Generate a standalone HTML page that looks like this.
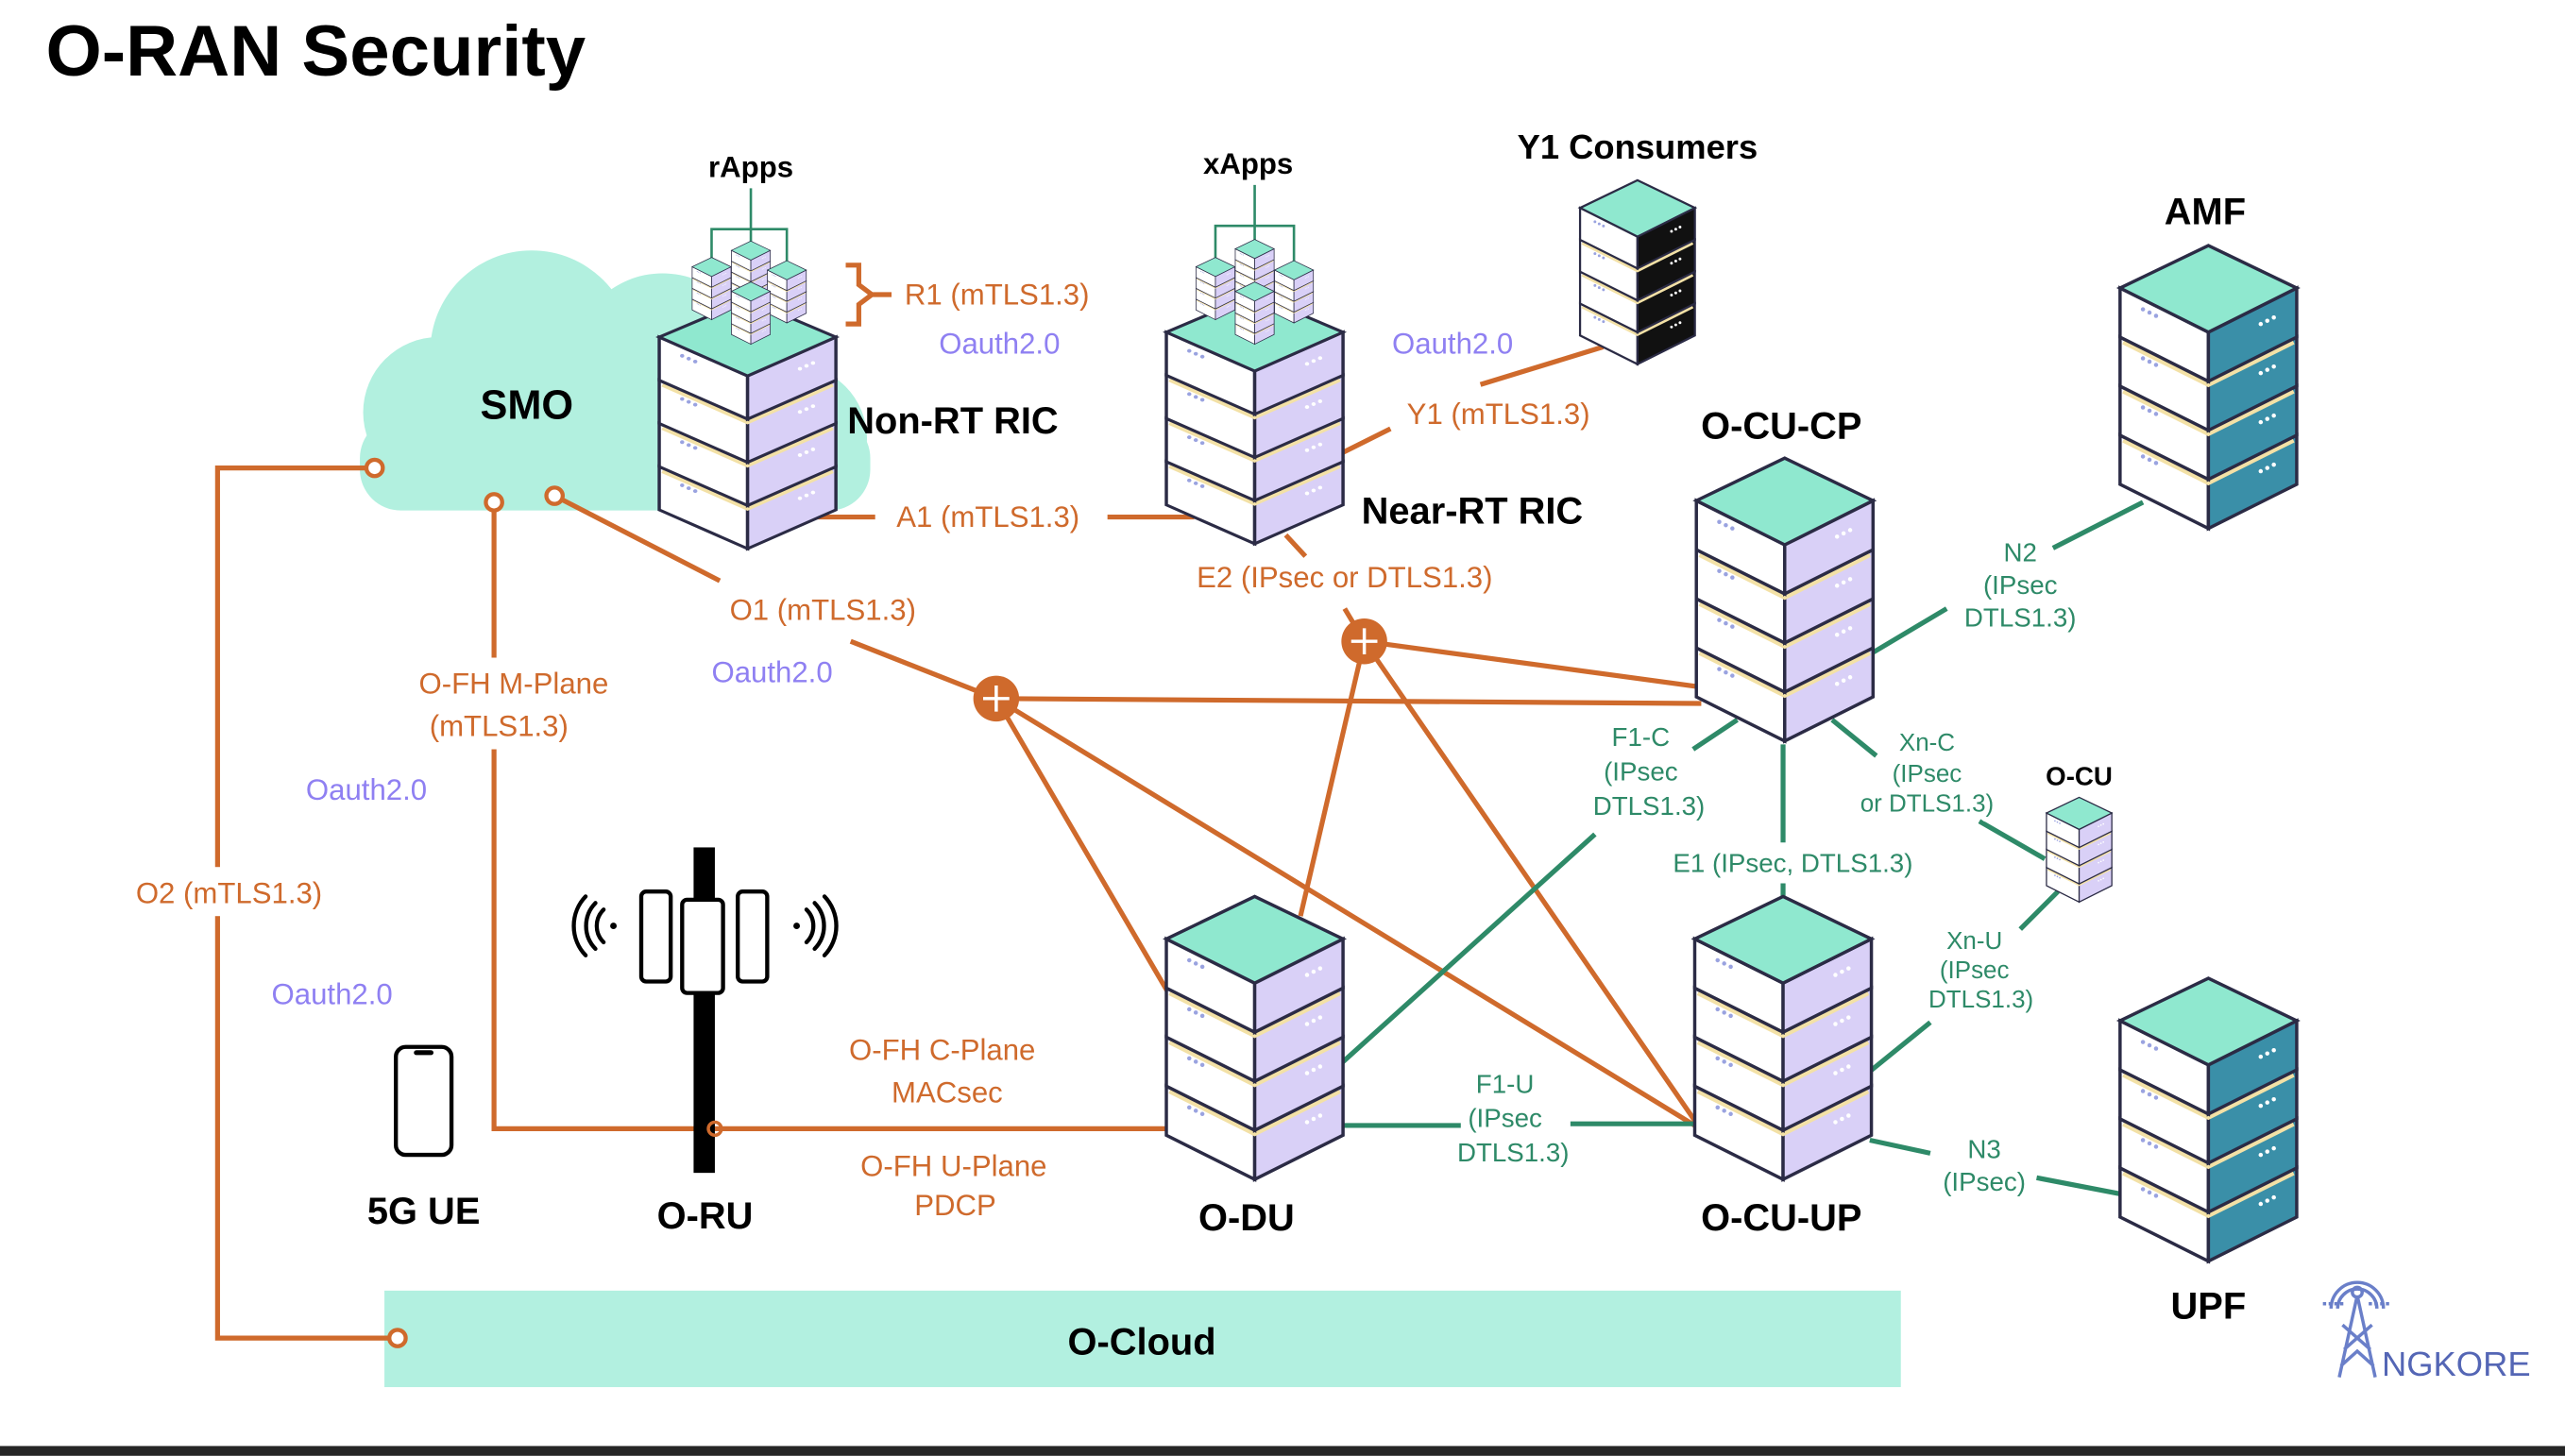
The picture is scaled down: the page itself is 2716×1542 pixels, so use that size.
<!DOCTYPE html>
<html><head><meta charset="utf-8"><style>
html,body{margin:0;padding:0;background:#fff;}
svg{display:block;}
text{font-family:"Liberation Sans",sans-serif;}
.o,.g,.p{stroke:#fff;stroke-width:6px;paint-order:stroke;stroke-linejoin:round;}
.o{fill:#cf6a2c;font-size:18px;}
.g{fill:#2e8a68;font-size:16px;}
.p{fill:#8f80f2;font-size:18px;}
.b{fill:#000;font-size:23px;font-weight:bold;}
.lo{stroke:#cf6a2c;stroke-width:3;fill:none;}
.lg{stroke:#2e8a68;stroke-width:3;fill:none;}
</style></head><body>
<svg width="2716" height="1542" viewBox="0 0 1568 890" xmlns="http://www.w3.org/2000/svg">
<defs>
<g id="layer">
  <path d="M-54,0 L0,27 L0,57 L-54,30 Z" fill="#fff" stroke="#2b2b45" stroke-width="2"/>
  <path d="M0,27 L54,0 L54,30 L0,57 Z" fill="var(--r,#d9d0f7)" stroke="#2b2b45" stroke-width="2"/>
  <circle cx="-40" cy="13" r="1.3" fill="#9aa3e0"/><circle cx="-36" cy="15" r="1.3" fill="#9aa3e0"/><circle cx="-32" cy="17" r="1.3" fill="#9aa3e0"/>
  <circle cx="32" cy="22" r="1.3" fill="#fff"/><circle cx="36" cy="20" r="1.3" fill="#fff"/><circle cx="40" cy="18" r="1.3" fill="#fff"/>
</g>
<g id="band">
  <polyline points="-52,2 0,28 52,2" fill="none" stroke="#8f96ec" stroke-width="5"/>
  <polyline points="-52,6 0,32 52,6" fill="none" stroke="#f3e1a6" stroke-width="3"/>
</g>
<g id="srv">
  <use href="#layer" y="90"/><use href="#band" y="87"/>
  <use href="#layer" y="60"/><use href="#band" y="57"/>
  <use href="#layer" y="30"/><use href="#band" y="27"/>
  <use href="#layer" y="0"/>
  <path d="M0,-26 L54,0 L0,27 L-54,0 Z" fill="#8fe8cf" stroke="#2b2b45" stroke-width="2"/>
</g>
</defs>

<text x="28" y="46" style="font-size:44px;font-weight:bold">O-RAN Security</text>

<g fill="#b2f0df">
  <circle cx="325" cy="215" r="62"/>
  <circle cx="268" cy="252" r="46"/>
  <circle cx="405" cy="222" r="55"/>
  <circle cx="485" cy="268" r="45"/>
  <rect x="220" y="255" width="312" height="57" rx="25"/>
</g>
<text x="322" y="256" class="b" text-anchor="middle" style="font-size:25px">SMO</text>

<rect x="235" y="789" width="927" height="59" fill="#b2f0e0"/>
<text x="698" y="828" class="b" text-anchor="middle">O-Cloud</text>

<path class="lo" d="M229,286 H133 V818 H243"/>
<path class="lo" d="M302,307 V690 H713"/>
<path class="lo" d="M339,303 L440,355"/>
<path class="lo" d="M520,392 L609,427"/>
<path class="lo" d="M470,316 H535 M677,316 H730"/>
<path class="lo" d="M790,292 L850,262 M905,235 L980,212"/>
<path class="lo" d="M786,327 L798,340"/>
<path class="lo" d="M609,427 L1040,430 M609,427 L716,610 M609,427 L1036,688"/>
<path class="lo" d="M834,392 L1040,420 M834,392 L795,560 M834,392 L1036,685 M834,392 L822,372"/>
<path class="lo" d="M517,162 h8 v12 l8,6 l-8,6 v12 h-8 M533,180 h12" stroke-width="2"/>
<circle cx="229" cy="286" r="5" fill="#fff" stroke="#cf6a2c" stroke-width="2.5"/>
<circle cx="302" cy="307" r="5" fill="#fff" stroke="#cf6a2c" stroke-width="2.5"/>
<circle cx="339" cy="303" r="5" fill="#fff" stroke="#cf6a2c" stroke-width="2.5"/>
<circle cx="243" cy="818" r="5" fill="#fff" stroke="#cf6a2c" stroke-width="2.5"/>

<!-- label gaps -->
<rect x="245" y="402" width="140" height="56" fill="#fff"/>
<rect x="75" y="530" width="130" height="30" fill="#fff"/>

<path class="lg" d="M820,650 L975,510 M1035,458 L1062,440"/>
<path class="lg" d="M821,688 H893 M960,687 H1036"/>
<path class="lg" d="M1090,455 V515 M1090,540 V548"/>
<path class="lg" d="M1143,400 L1190,372 M1255,335 L1310,307"/>
<path class="lg" d="M1120,440 L1147,462 M1210,502 L1250,525"/>
<path class="lg" d="M1258,545 L1235,568 M1143,655 L1180,625"/>
<path class="lg" d="M1143,697 L1180,705 M1245,720 L1297,730"/>

<circle cx="609" cy="427" r="14" fill="#cf6a2c"/>
<path d="M601,427 h16 M609,419 v16" stroke="#fff" stroke-width="2"/>
<circle cx="834" cy="392" r="14" fill="#cf6a2c"/>
<path d="M826,392 h16 M834,384 v16" stroke="#fff" stroke-width="2"/>

<use href="#srv" transform="translate(457,206) scale(1,0.88)"/>
<use href="#srv" transform="translate(767,203) scale(1,0.88)"/>
<use href="#srv" transform="translate(1091,306)"/>
<use href="#srv" transform="translate(767,574)"/>
<use href="#srv" transform="translate(1090,574)"/>
<use href="#srv" transform="translate(1350,176)" style="--r:#3a8fa8"/>
<use href="#srv" transform="translate(1350,624)" style="--r:#3a8fa8"/>
<use href="#srv" transform="translate(1001,127) scale(0.65)" style="--r:#111"/>
<use href="#srv" transform="translate(1271,497) scale(0.37)"/>

<g stroke="#2e8a68" stroke-width="1.5" fill="none">
  <path d="M459,115 V195 M435,165 V140 H481 V165"/>
  <path d="M767,113 V195 M743,165 V138 H791 V165"/>
</g>
<use href="#srv" transform="translate(435,163) scale(0.22)"/>
<use href="#srv" transform="translate(459,153) scale(0.22)"/>
<use href="#srv" transform="translate(481,165) scale(0.22)"/>
<use href="#srv" transform="translate(459,178) scale(0.22)"/>
<use href="#srv" transform="translate(743,163) scale(0.22)"/>
<use href="#srv" transform="translate(767,152) scale(0.22)"/>
<use href="#srv" transform="translate(791,165) scale(0.22)"/>
<use href="#srv" transform="translate(767,178) scale(0.22)"/>

<rect x="424" y="518" width="13" height="199" fill="#000"/>
<rect x="392" y="545" width="18" height="55" rx="3" fill="#fff" stroke="#000" stroke-width="2.5"/>
<rect x="417" y="550" width="25" height="57" rx="3" fill="#fff" stroke="#000" stroke-width="2.5"/>
<rect x="451" y="545" width="18" height="55" rx="3" fill="#fff" stroke="#000" stroke-width="2.5"/>
<g fill="none" stroke="#000" stroke-width="2.5" stroke-linecap="round">
  <path d="M369,556 a14,14 0 0 0 0,20 M364,552 a20,20 0 0 0 0,28 M358,548 a26,26 0 0 0 0,36"/>
  <path d="M493,556 a14,14 0 0 1 0,20 M498,552 a20,20 0 0 1 0,28 M504,548 a26,26 0 0 1 0,36"/>
</g>
<circle cx="375" cy="566" r="2" fill="#000"/><circle cx="487" cy="566" r="2" fill="#000"/>
<circle cx="437" cy="690" r="4" fill="none" stroke="#cf6a2c" stroke-width="2"/>

<rect x="242" y="640" width="34" height="66" rx="6" fill="#fff" stroke="#000" stroke-width="2.5"/>
<rect x="253" y="642" width="12" height="3" rx="1.5" fill="#000"/>

<text x="459" y="108" class="b" text-anchor="middle" style="font-size:18px">rApps</text>
<text x="763" y="106" class="b" text-anchor="middle" style="font-size:18px">xApps</text>
<text x="1001" y="97" class="b" text-anchor="middle" style="font-size:21px">Y1 Consumers</text>
<text x="1348" y="137" class="b" text-anchor="middle">AMF</text>
<text x="518" y="265" class="b">Non-RT RIC</text>
<text x="900" y="320" class="b" text-anchor="middle">Near-RT RIC</text>
<text x="1089" y="268" class="b" text-anchor="middle">O-CU-CP</text>
<text x="1271" y="480" class="b" text-anchor="middle" style="font-size:16px">O-CU</text>
<text x="259" y="748" class="b" text-anchor="middle">5G UE</text>
<text x="431" y="751" class="b" text-anchor="middle">O-RU</text>
<text x="762" y="752" class="b" text-anchor="middle">O-DU</text>
<text x="1089" y="752" class="b" text-anchor="middle">O-CU-UP</text>
<text x="1350" y="806" class="b" text-anchor="middle">UPF</text>

<text x="553" y="186" class="o">R1 (mTLS1.3)</text>
<text x="604" y="322" class="o" text-anchor="middle">A1 (mTLS1.3)</text>
<text x="916" y="259" class="o" text-anchor="middle">Y1 (mTLS1.3)</text>
<text x="822" y="359" class="o" text-anchor="middle">E2 (IPsec or DTLS1.3)</text>
<text x="503" y="379" class="o" text-anchor="middle">O1 (mTLS1.3)</text>
<text x="314" y="424" class="o" text-anchor="middle">O-FH M-Plane</text>
<text x="305" y="450" class="o" text-anchor="middle">(mTLS1.3)</text>
<text x="140" y="552" class="o" text-anchor="middle">O2 (mTLS1.3)</text>
<text x="576" y="648" class="o" text-anchor="middle">O-FH C-Plane</text>
<text x="579" y="674" class="o" text-anchor="middle">MACsec</text>
<text x="583" y="719" class="o" text-anchor="middle">O-FH U-Plane</text>
<text x="584" y="743" class="o" text-anchor="middle">PDCP</text>

<text x="611" y="216" class="p" text-anchor="middle">Oauth2.0</text>
<text x="888" y="216" class="p" text-anchor="middle">Oauth2.0</text>
<text x="472" y="417" class="p" text-anchor="middle">Oauth2.0</text>
<text x="224" y="489" class="p" text-anchor="middle">Oauth2.0</text>
<text x="203" y="614" class="p" text-anchor="middle">Oauth2.0</text>

<text class="g" text-anchor="middle"><tspan x="1235" y="343">N2</tspan><tspan x="1235" y="363">(IPsec</tspan><tspan x="1235" y="383">DTLS1.3)</tspan></text>
<text class="g" text-anchor="middle"><tspan x="1003" y="456">F1-C</tspan><tspan x="1003" y="477">(IPsec</tspan><tspan x="1008" y="498">DTLS1.3)</tspan></text>
<text class="g" text-anchor="middle" style="font-size:15px"><tspan x="1178" y="459">Xn-C</tspan><tspan x="1178" y="478">(IPsec</tspan><tspan x="1178" y="496">or DTLS1.3)</tspan></text>
<text x="1096" y="533" class="g" text-anchor="middle">E1 (IPsec, DTLS1.3)</text>
<text class="g" text-anchor="middle" style="font-size:15px"><tspan x="1207" y="580">Xn-U</tspan><tspan x="1207" y="598">(IPsec</tspan><tspan x="1211" y="616">DTLS1.3)</tspan></text>
<text class="g" text-anchor="middle"><tspan x="920" y="668">F1-U</tspan><tspan x="920" y="689">(IPsec</tspan><tspan x="925" y="710">DTLS1.3)</tspan></text>
<text class="g" text-anchor="middle"><tspan x="1213" y="708">N3</tspan><tspan x="1213" y="728">(IPsec)</tspan></text>

<g fill="none" stroke="#6a7fc9" stroke-width="2">
  <path d="M1425,800 a16,16 0 0 1 32,0 M1429,800 a12,12 0 0 1 24,0"/>
  <path d="M1441,792 L1430,842 M1441,792 L1452,842 M1433,825 L1450,810 M1449,825 L1432,810 M1431,835 L1441,826 L1451,835" />
  <path d="M1420,797 h14 M1448,797 h14" stroke-dasharray="2,1.5"/>
</g>
<circle cx="1441" cy="790" r="3" fill="none" stroke="#6a7fc9" stroke-width="2"/>
<text x="1456" y="841" style="font-size:21px;fill:#5466b5">NGKORE</text>

<rect x="0" y="884" width="1568" height="6" fill="#262626"/>
</svg>
</body></html>
